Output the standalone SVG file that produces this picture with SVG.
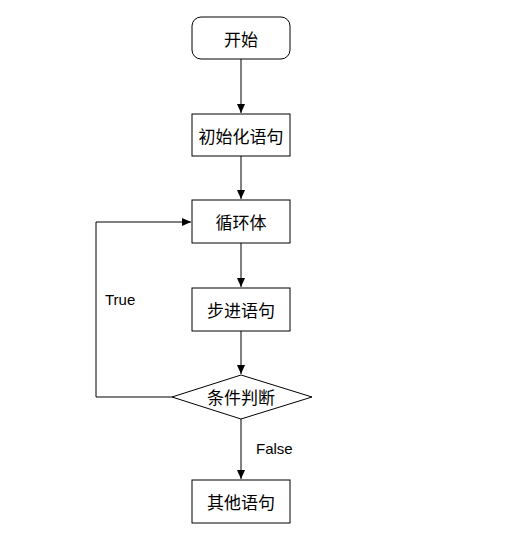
<svg xmlns="http://www.w3.org/2000/svg" width="509" height="550" viewBox="0 0 509 550">
<style>
.n{fill:#fff;stroke:#000;stroke-width:1}
.t{font-family:"Noto Sans CJK SC","Noto Sans",sans-serif;font-size:17px;fill:#000;text-anchor:middle;dominant-baseline:central}
.l{font-family:"Liberation Sans","Noto Sans",sans-serif;font-size:15px;fill:#000}
.c{fill:none;stroke:#000;stroke-width:1}
</style>
<defs>
<marker id="a" markerWidth="10" markerHeight="10" refX="9" refY="5" orient="auto" markerUnits="userSpaceOnUse">
<path d="M0,1 L9,5 L0,9 Z" fill="#000"/>
</marker>
</defs>
<rect width="509" height="550" fill="#fff"/>
<g id="connectors">
<line class="c" x1="241" y1="59" x2="241" y2="113" marker-end="url(#a)"/>
<line class="c" x1="241" y1="156" x2="241" y2="199" marker-end="url(#a)"/>
<line class="c" x1="241" y1="243" x2="241" y2="287" marker-end="url(#a)"/>
<line class="c" x1="241" y1="331" x2="241" y2="374" marker-end="url(#a)"/>
<line class="c" x1="241" y1="419" x2="241" y2="479" marker-end="url(#a)"/>
<polyline class="c" points="172,397 96,397 96,222 191,222" marker-end="url(#a)"/>
<text class="l" x="105" y="305">True</text>
<text class="l" x="256" y="454">False</text>
</g>
<g id="start"><rect class="n" x="192" y="17" width="98" height="42" rx="9"/><text class="t" x="241" y="38">开始</text></g>
<g id="init"><rect class="n" x="192" y="114" width="98" height="42"/><text class="t" x="241" y="135">初始化语句</text></g>
<g id="body"><rect class="n" x="192" y="200" width="98" height="43"/><text class="t" x="241" y="221">循环体</text></g>
<g id="step"><rect class="n" x="192" y="288" width="98" height="43"/><text class="t" x="241" y="309">步进语句</text></g>
<g id="cond"><polygon class="n" points="241,375 312,397 241,419 172,397"/><text class="t" x="241" y="396">条件判断</text></g>
<g id="end"><rect class="n" x="192" y="480" width="98" height="43"/><text class="t" x="241" y="501">其他语句</text></g>
</svg>
